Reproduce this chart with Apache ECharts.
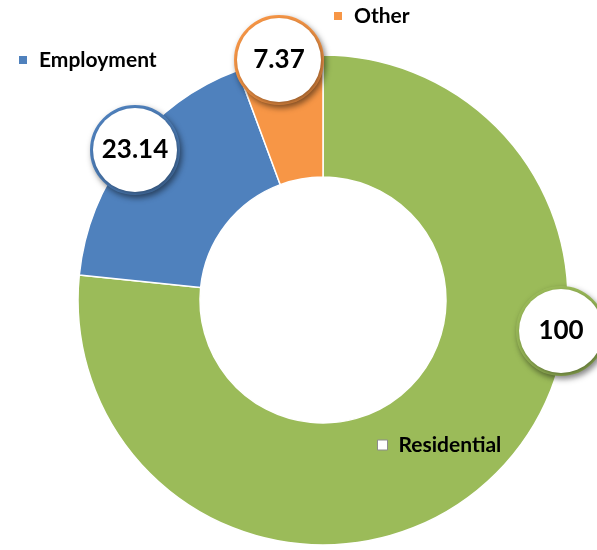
<!DOCTYPE html>
<html>
<head>
<meta charset="utf-8">
<script src="https://cdn.jsdelivr.net/npm/echarts@6/dist/echarts.min.js"></script>
<style>html,body{margin:0;padding:0;background:#fff}#c{width:597px;height:550px}</style>
</head>
<body>
<div id="c"></div>
<script>
const categories = ['Residential', 'Employment', 'Other'];
const values = [100, 23.14, 7.37];
const labelTexts = ['100', '23.14', '7.37'];

const colors = ['#9BBB59', '#4F81BD', '#F79646'];
const labelCenters = [[561, 331], [135, 150], [279, 60]];
const legendPos = [{left: 377, top: 433}, {left: 17, top: 48}, {left: 332, top: 4}];

const chart = echarts.init(document.getElementById('c'), null, {renderer: 'canvas'});

const legends = categories.map((name, i) => ({
  left: legendPos[i].left,
  top: legendPos[i].top,
  orient: 'horizontal',
  selectedMode: false,
  icon: 'rect',
  itemWidth: 10,
  itemHeight: 10,
  padding: 0,
  data: [i === 0 ? {name, itemStyle: {color: '#ffffff', borderColor: '#8c8c8c', borderWidth: 1}} : {name}],
  textStyle: {fontFamily: 'Lato', fontWeight: 'bold', fontSize: 21, color: '#000', lineHeight: 24, padding: [0, 0, 0, 6]}
}));

chart.setOption({
  animation: false,
  color: colors,
  legend: legends,
  series: [{
    type: 'pie',
    center: [323, 300],
    radius: [123, 245],
    startAngle: 90,
    clockwise: true,
    avoidLabelOverlap: false,
    itemStyle: {borderColor: '#ffffff', borderWidth: 1.5},
    labelLine: {show: false},
    label: {
      show: true,
      position: 'inside',
      formatter: p => labelTexts[p.dataIndex],
      fontFamily: 'Lato',
      fontWeight: 'bold',
      fontSize: 26,
      color: '#000',
      backgroundColor: '#ffffff',
      borderWidth: 3,
      width: 84,
      height: 84,
      lineHeight: 84,
      borderRadius: 45,
      align: 'center',
      verticalAlign: 'middle',
      padding: 0,
      shadowColor: 'rgba(0,0,0,0.4)',
      shadowBlur: 6,
      shadowOffsetX: 2,
      shadowOffsetY: 3
    },
    labelLayout: p => ({x: labelCenters[p.dataIndex][0], y: labelCenters[p.dataIndex][1]}),
    data: categories.map((name, i) => ({
      name,
      value: values[i],
      label: {borderColor: colors[i]}
    }))
  }]
});
</script>
</body>
</html>
